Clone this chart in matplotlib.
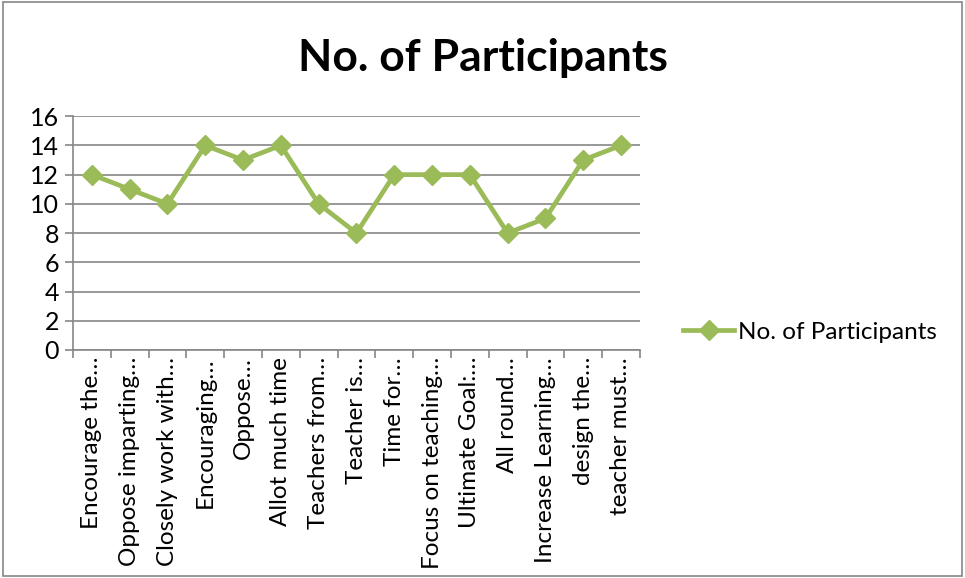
import matplotlib
matplotlib.use('Agg')
import matplotlib.pyplot as plt
from matplotlib.patches import Rectangle

# datos del grafico
categorias = ['Encourage the…', 'Oppose imparting…', 'Closely work with…', 'Encouraging…',
              'Oppose…', 'Allot much time', 'Teachers from…', 'Teacher is…', 'Time for…',
              'Focus on teaching…', 'Ultimate Goal:…', 'All round…', 'Increase Learning…',
              'design the…', 'teacher must…']
participantes = [12, 11, 10, 14, 13, 14, 10, 8, 12, 12, 12, 8, 9, 13, 14]
yticks = list(range(0, 17, 2))

plt.rcParams['font.family'] = ['Lato', 'DejaVu Sans']
verde = '#9BBB59'
gris = '#868686'

fig = plt.figure(figsize=(9.65, 5.78), dpi=100)
ax = fig.add_axes([0.0756, 0.3945, 0.5875, 0.4045])

x = range(len(categorias))
ax.plot(x, participantes, color=verde, linewidth=3.4, marker='D', markersize=10.5,
        label='No. of Participants', zorder=3)

ax.set_xlim(-0.5, len(categorias) - 0.5)
ax.set_ylim(0, 16)
ax.set_yticks(yticks)
ax.yaxis.grid(True, color=gris, linewidth=1.2)
ax.set_xticks(list(x))
ax.set_xticklabels(categorias, rotation=90, fontsize=17.5)
ax.set_xticks([i - 0.5 for i in range(len(categorias) + 1)], minor=True)
ax.tick_params(axis='x', which='major', length=0, pad=5)
ax.tick_params(axis='x', which='minor', length=6, color=gris, width=1.2)
ax.tick_params(axis='y', length=6, color=gris, width=1.2, labelsize=18, pad=4)
for lado in ['top', 'right']:
    ax.spines[lado].set_visible(False)
for lado in ['left', 'bottom']:
    ax.spines[lado].set_color(gris)
    ax.spines[lado].set_linewidth(1.2)

fig.text(0.5, 0.9, 'No. of Participants', ha='center', va='center',
         fontsize=32, fontweight='bold')

fig.legend(loc='center left', bbox_to_anchor=(0.698, 0.425), frameon=False,
           fontsize=17.5, handlelength=2.1, handletextpad=0.15, borderaxespad=0)

fig.patches.append(Rectangle((0.003, 0.004), 0.994, 0.992, transform=fig.transFigure,
                             fill=False, edgecolor=gris, linewidth=1.2))

fig.savefig('out.png', dpi=100)
